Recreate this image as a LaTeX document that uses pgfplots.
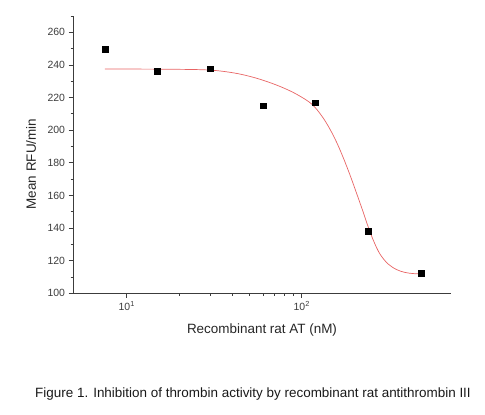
\documentclass[border=0pt]{standalone}
\usepackage{fontspec}
\setmainfont{Liberation Sans}
\usepackage{pgfplots}
\pgfplotsset{compat=1.18}
\definecolor{axisgray}{RGB}{60,60,60}
\definecolor{fitred}{RGB}{232,100,100}

\begin{document}
\begin{tikzpicture}
\useasboundingbox (0bp,0bp) rectangle (485bp,415bp);
\begin{axis}[
    at={(73bp,121.7bp)}, anchor=south west,
    scale only axis,
    width=378bp, height=277.3bp,
    xmode=log,
    xmin=4.93, xmax=713,
    ymin=100, ymax=270,
    axis x line*=bottom, axis y line*=left,
    axis line style={axisgray, line width=0.9bp, -},
    tick align=outside,
    major tick length=4.5bp, minor tick length=2.5bp,
    tick style={axisgray, line width=0.8bp},
    xtick={10,100},
    xticklabels={10\textsuperscript{1},10\textsuperscript{2}},
    minor xtick={},
    ytick={100,120,...,260},
    minor ytick={110,130,...,270},
    ticklabel style={font=\fontsize{10.5}{12}\selectfont, text=axisgray},
    /pgf/number format/assume math mode=true,
    xlabel={Recombinant rat AT (nM)},
    ylabel={Mean RFU/min},
    label style={font=\fontsize{13.5}{16}\selectfont, text=black!85},
    xlabel style={at={(axis description cs:0.5,-0.132)}, anchor=center},
    ylabel style={at={(axis description cs:-0.111,0.466)}, anchor=center},
    clip=false,
]
% fitted dose-response curve
\addplot[fitred, line width=0.7bp, smooth, tension=0.55] coordinates {
    (7.5,237.5) (15,237.4) (26.2,237.1) (34.1,236.3) (44.4,234.4)
    (57.8,231.2) (75.2,226.8) (93.6,222.0) (114.1,216.0) (130.6,208.5)
    (145.2,200.5) (159.2,192.0) (172.9,183.0) (188.8,172.5) (206.3,161.0)
    (225.0,149.5) (240.2,140.5) (258.9,131.5) (280.2,124.0) (311.3,118.0)
    (349.1,114.5) (389.3,112.8) (432.6,112.1) (480.5,111.9)
};
% measured points
\addplot[only marks, mark=square*, mark size=2.9bp, black] coordinates {
    (7.5,249.6) (15,236.1) (30,237.7) (60,215.0) (120,216.8) (240,138.1) (480,112.3)
};
\end{axis}
\node[font=\fontsize{13.5}{16}\selectfont, text=black!90] at (253bp,21bp)
    {Figure 1. Inhibition of thrombin activity by recombinant rat antithrombin III};
\end{tikzpicture}
\end{document}
